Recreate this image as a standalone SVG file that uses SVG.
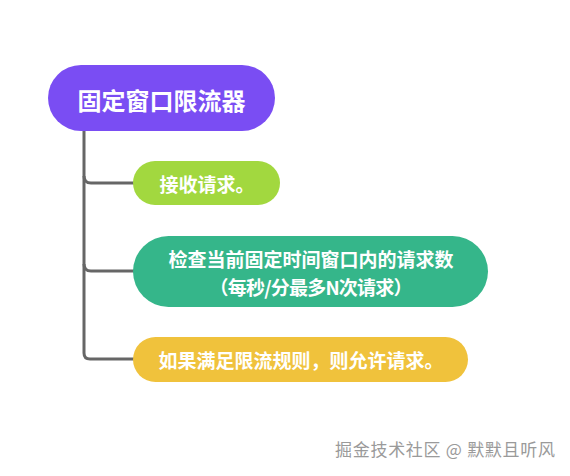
<svg xmlns="http://www.w3.org/2000/svg" width="570" height="476" viewBox="0 0 570 476">
<style>
.t{font-family:"Noto Sans CJK SC","Noto Sans",sans-serif;font-weight:bold;fill:#ffffff;text-anchor:middle;dominant-baseline:central}
.c{fill:none;stroke:#666666;stroke-width:3}
.wm{font-family:"Noto Sans CJK SC","Noto Sans",sans-serif;fill:#9a9a9a;font-size:17px}
</style>
<rect width="570" height="476" fill="#ffffff"/>
<g id="connectors">
<path class="c" d="M84,131 V353 Q84,359 90,359 H134"/>
<path class="c" d="M84,176 Q84,183 91,183 H134"/>
<path class="c" d="M84,264 Q84,271 91,271 H134"/>
</g>
<g id="root">
<rect x="48" y="65" width="227" height="66" rx="33" fill="#7A4DF3"/>
<text class="t" x="161.5" y="99" font-size="24">固定窗口限流器</text>
</g>
<g id="n1">
<rect x="133" y="161" width="147" height="44" rx="22" fill="#A2D83F"/>
<text class="t" x="207" y="183" font-size="19">接收请求。</text>
</g>
<g id="n2">
<rect x="133" y="236" width="355" height="71" rx="35.5" fill="#35B68A"/>
<text class="t" x="311" y="258" font-size="19">检查当前固定时间窗口内的请求数</text>
<text class="t" x="311" y="286" font-size="19" textLength="203" lengthAdjust="spacing">（每秒/分最多N次请求）</text>
</g>
<g id="n3">
<rect x="133" y="337" width="335" height="45" rx="22.5" fill="#F0C23C"/>
<text class="t" x="301" y="359.5" font-size="19">如果满足限流规则，则允许请求。</text>
</g>
<text class="wm" x="335" y="456" textLength="220" lengthAdjust="spacing">掘金技术社区 @ 默默且听风</text>
</svg>
